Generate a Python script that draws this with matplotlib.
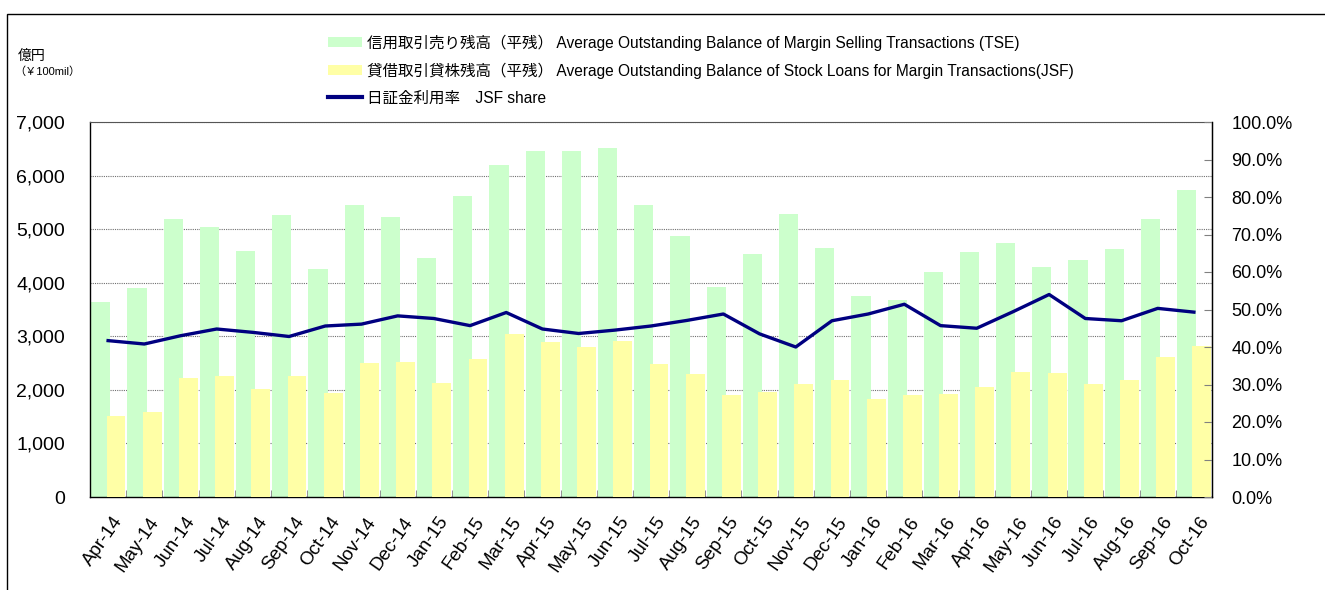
import numpy as np
import matplotlib
matplotlib.use("Agg")
import matplotlib.pyplot as plt
from matplotlib.patches import Patch, Rectangle
from matplotlib.lines import Line2D
from matplotlib.ticker import FixedLocator, FuncFormatter

plt.rcParams["font.family"] = ["Liberation Sans", "Noto Sans CJK JP", "DejaVu Sans"]

# ---------- data -------------------------------------------------------------
months = [
    "Apr-14", "May-14", "Jun-14", "Jul-14", "Aug-14", "Sep-14", "Oct-14", "Nov-14", "Dec-14",
    "Jan-15", "Feb-15", "Mar-15", "Apr-15", "May-15", "Jun-15", "Jul-15", "Aug-15", "Sep-15",
    "Oct-15", "Nov-15", "Dec-15", "Jan-16", "Feb-16", "Mar-16", "Apr-16", "May-16", "Jun-16",
    "Jul-16", "Aug-16", "Sep-16", "Oct-16",
]
tse_selling = [
    3634, 3908, 5183, 5046, 4586, 5258, 4256, 5457, 5233, 4461, 5619, 6197, 6459, 6453, 6515,
    5451, 4872, 3920, 4530, 5283, 4648, 3752, 3677, 4194, 4580, 4735, 4293, 4424, 4636, 5189, 5731,
]
jsf_loans = [
    1512, 1593, 2227, 2259, 2010, 2259, 1935, 2508, 2526, 2122, 2570, 3043, 2893, 2806, 2905,
    2483, 2296, 1904, 1966, 2115, 2184, 1823, 1898, 1923, 2060, 2327, 2308, 2109, 2184, 2607, 2819,
]
jsf_share = [
    41.7, 40.8, 43.0, 44.8, 43.9, 42.8, 45.6, 46.1, 48.3, 47.6, 45.7, 49.2, 44.8, 43.6, 44.5,
    45.6, 47.1, 48.8, 43.5, 40.0, 47.0, 48.8, 51.4, 45.7, 45.0, 49.4, 54.0, 47.6, 47.0, 50.3, 49.3,
]
left_ticks = [0, 1000, 2000, 3000, 4000, 5000, 6000, 7000]
right_ticks = [0, 10, 20, 30, 40, 50, 60, 70, 80, 90, 100]

label_tse = "信用取引売り残高（平残） Average Outstanding Balance of Margin Selling Transactions (TSE)"
label_jsf = "貸借取引貸株残高（平残） Average Outstanding Balance of Stock Loans for Margin Transactions(JSF)"
label_share = "日証金利用率　JSF share"

GREEN = "#CCFFCC"
YELLOW = "#FFFFA6"
NAVY = "#000080"

# ---------- figure -----------------------------------------------------------
fig = plt.figure(figsize=(13.25, 5.9), dpi=100)
ax = fig.add_axes([90 / 1325, 93 / 590, 1122 / 1325, 375 / 590])

x = np.arange(len(months))
ax.bar(x - 0.2, tse_selling, width=0.53, color=GREEN, zorder=2)
ax.bar(x + 0.22, jsf_loans, width=0.52, color=YELLOW, zorder=3)

ax.set_xlim(-0.5, len(months) - 0.5)
ax.set_ylim(0, 7000)
ax.set_yticks(left_ticks)
ax.yaxis.set_major_formatter(FuncFormatter(lambda v, _: f"{int(v):,}"))
ax.tick_params(axis="y", length=0, labelsize=14, pad=18)
ax.grid(True, axis="y", color="#707070", linestyle=(0, (1, 1)), linewidth=0.8, zorder=0)
ax.set_axisbelow(True)

ax.set_xticks(x + 0.12)
ax.set_xticklabels(months, rotation=55, ha="right", rotation_mode="anchor", fontsize=13.5)
ax.tick_params(axis="x", which="major", length=0, pad=12)
ax.xaxis.set_minor_locator(FixedLocator(np.arange(0.5, len(months) - 1, 1.0)))
ax.tick_params(axis="x", which="minor", direction="in", length=5, color="#808080")

for side in ("left", "bottom", "right"):
    ax.spines[side].set_color("black")
    ax.spines[side].set_linewidth(1.0)
ax.spines["top"].set_color("#555555")
ax.spines["top"].set_linestyle((0, (1, 1)))
ax.spines["top"].set_linewidth(0.8)

ax2 = ax.twinx()
ax2.plot(x, jsf_share, color=NAVY, linewidth=2.4, zorder=5)
ax2.set_ylim(0, 100)
ax2.set_yticks(right_ticks)
ax2.yaxis.set_major_formatter(FuncFormatter(lambda v, _: f"{v:.1f}%"))
ax2.tick_params(axis="y", direction="in", length=6, color="#808080", labelsize=13, pad=14)
for s in ("top", "left", "bottom"):
    ax2.spines[s].set_visible(False)
ax2.spines["right"].set_color("black")

# ---------- legend -----------------------------------------------------------
handles = [
    Patch(facecolor=GREEN, edgecolor="none"),
    Patch(facecolor=YELLOW, edgecolor="none"),
    Line2D([], [], color=NAVY, linewidth=3),
]
fig.legend(
    handles, [label_tse, label_jsf, label_share],
    loc="upper left", bbox_to_anchor=(322 / 1325, 1 - 28 / 590),
    frameon=False, fontsize=11.2, handlelength=2.2, handleheight=0.6,
    handletextpad=0.3, labelspacing=0.76, borderaxespad=0,
)

# ---------- unit labels and frame -------------------------------------------
fig.text(18 / 1325, 1 - 56 / 590, "億円", fontsize=10, va="center", ha="left")
fig.text(14 / 1325, 1 - 72 / 590, "（￥100mil）", fontsize=8, va="center", ha="left")
fig.add_artist(Rectangle((7 / 1325, -0.1), 1.2, 1 - 14 / 590 + 0.1,
                         transform=fig.transFigure, fill=False, edgecolor="black",
                         linewidth=1.0))

fig.savefig("out.png", dpi=100)
